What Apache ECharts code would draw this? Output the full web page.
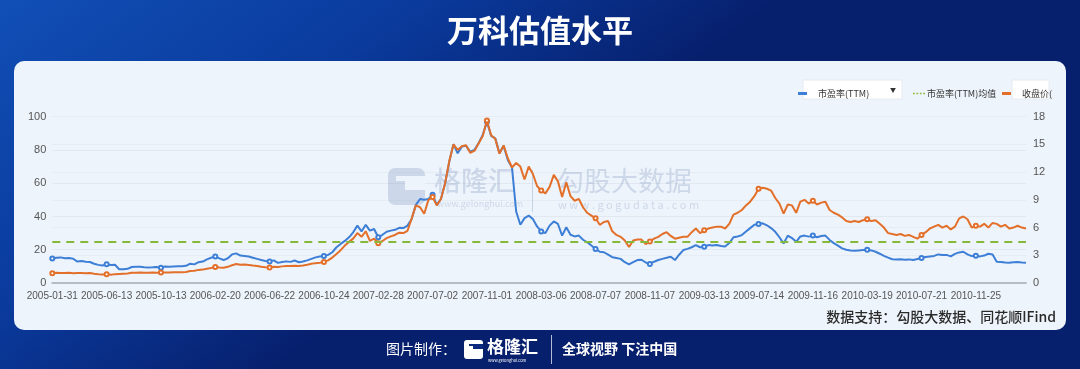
<!DOCTYPE html>
<html>
<head>
<meta charset="utf-8">
<script src="https://cdn.jsdelivr.net/npm/echarts@6/dist/echarts.min.js"></script>
<style>
html,body{margin:0;padding:0;width:1080px;height:369px;overflow:hidden;}
#c{width:1080px;height:369px;}
</style>
</head>
<body>
<div id="c"></div>
<script>
const categories = [
'2005-01-31','2005-02-07','2005-02-21','2005-03-02','2005-03-11','2005-03-22','2005-03-31','2005-04-11','2005-04-20','2005-04-29','2005-05-13','2005-05-23','2005-06-01',
'2005-06-13','2005-06-22','2005-07-01','2005-07-12','2005-07-21','2005-08-01','2005-08-10','2005-08-19','2005-08-30','2005-09-08','2005-09-19','2005-09-28','2005-10-10',
'2005-10-13','2005-10-24','2005-11-02','2005-11-11','2005-11-22','2005-12-01','2005-12-12','2005-12-21','2005-12-30','2006-01-11','2006-01-20','2006-02-06','2006-02-13',
'2006-02-20','2006-03-01','2006-03-10','2006-03-21','2006-03-30','2006-04-10','2006-04-19','2006-04-28','2006-05-12','2006-05-22','2006-05-31','2006-06-08','2006-06-15',
'2006-06-22','2006-07-03','2006-07-12','2006-07-21','2006-08-01','2006-08-10','2006-08-21','2006-08-30','2006-09-08','2006-09-19','2006-09-28','2006-10-13','2006-10-18',
'2006-10-24','2006-11-02','2006-11-13','2006-11-22','2006-12-01','2006-12-12','2006-12-21','2007-01-04','2007-01-12','2007-01-23','2007-02-01','2007-02-09','2007-02-16',
'2007-02-28','2007-03-09','2007-03-20','2007-03-29','2007-04-09','2007-04-18','2007-04-27','2007-05-11','2007-05-22','2007-05-31','2007-06-11','2007-06-20','2007-06-27',
'2007-07-02','2007-07-11','2007-07-20','2007-07-31','2007-08-09','2007-08-20','2007-08-29','2007-09-07','2007-09-18','2007-09-27','2007-10-12','2007-10-19','2007-10-26',
'2007-11-01','2007-11-12','2007-11-21','2007-11-30','2007-12-11','2007-12-20','2007-12-28','2008-01-09','2008-01-18','2008-01-29','2008-02-04','2008-02-18','2008-02-27',
'2008-03-06','2008-03-17','2008-03-26','2008-04-07','2008-04-16','2008-04-25','2008-05-08','2008-05-19','2008-05-28','2008-06-06','2008-06-17','2008-06-25','2008-06-30',
'2008-07-07','2008-07-16','2008-07-25','2008-08-05','2008-08-14','2008-08-25','2008-09-03','2008-09-12','2008-09-23','2008-10-06','2008-10-15','2008-10-24','2008-10-31',
'2008-11-07','2008-11-17','2008-11-26','2008-12-05','2008-12-16','2008-12-25','2009-01-07','2009-01-16','2009-02-02','2009-02-11','2009-02-20','2009-03-03','2009-03-06',
'2009-03-13','2009-03-24','2009-04-02','2009-04-14','2009-04-23','2009-05-05','2009-05-14','2009-05-25','2009-06-03','2009-06-12','2009-06-23','2009-07-02','2009-07-08',
'2009-07-14','2009-07-23','2009-08-03','2009-08-12','2009-08-21','2009-09-01','2009-09-10','2009-09-21','2009-09-30','2009-10-14','2009-10-23','2009-11-03','2009-11-10',
'2009-11-16','2009-11-25','2009-12-04','2009-12-15','2009-12-24','2010-01-06','2010-01-15','2010-01-26','2010-02-04','2010-02-11','2010-02-25','2010-03-08','2010-03-12',
'2010-03-19','2010-03-30','2010-04-09','2010-04-20','2010-04-29','2010-05-11','2010-05-20','2010-05-31','2010-06-09','2010-06-22','2010-07-01','2010-07-12','2010-07-16',
'2010-07-21','2010-07-30','2010-08-10','2010-08-19','2010-08-30','2010-09-08','2010-09-17','2010-09-30','2010-10-15','2010-10-26','2010-11-04','2010-11-15','2010-11-19',
'2010-11-25','2010-12-06','2010-12-15','2010-12-24','2011-01-05','2011-01-14','2011-01-25','2011-02-10','2011-02-21','2011-03-02','2011-03-11','2011-03-22','2011-03-31'
];

const peTTM = [
14.8,15.2,15.4,14.9,15.0,14.6,12.9,13.2,12.8,12.6,11.6,10.9,10.5,11.2,10.8,11.0,8.3,8.2,8.5,9.6,
9.7,9.8,9.5,9.3,9.4,9.6,9.2,9.9,9.8,9.9,10.0,10.1,10.3,11.6,11.2,12.5,12.9,14.2,15.2,
15.9,14.8,13.8,14.9,17.2,17.8,16.5,16.3,15.9,15.2,14.5,13.8,13.2,12.9,13.6,12.1,12.6,13.0,12.7,13.5,
12.5,12.9,13.6,14.5,15.4,15.9,16.2,16.9,18.5,21.5,23.5,25.3,27.5,30.5,34.5,31.0,35.0,31.5,32.5,27.5,
29.0,30.8,31.5,32.0,33.2,33.0,34.5,38.5,47.0,50.5,50.0,50.5,53.0,47.0,50.5,60.0,73.0,83.5,78.0,
82.0,82.5,79.0,80.0,84.0,89.0,97.0,88.5,87.0,78.0,82.5,74.0,69.5,43.0,35.0,39.0,40.5,38.5,34.0,31.0,
30.0,34.5,37.0,35.5,28.5,33.5,29.0,28.0,28.5,26.0,24.5,22.5,20.5,18.8,18.5,17.0,15.5,15.0,14.5,
12.5,11.2,12.5,13.8,14.0,12.3,11.5,12.8,13.8,14.5,15.2,15.8,13.8,17.0,19.8,20.5,21.5,22.8,21.5,21.8,
22.8,22.5,22.8,22.2,22.0,24.0,27.5,28.0,28.8,31.0,33.0,35.0,35.5,35.9,34.7,33.0,30.8,27.5,23.8,
28.5,27.0,24.8,28.0,28.5,27.9,28.5,27.5,28.3,28.5,25.9,24.0,22.5,20.8,20.0,19.6,19.4,19.6,19.8,20.0,
19.6,18.8,17.6,16.3,15.3,14.3,14.1,14.3,14.0,14.2,13.8,14.4,15.0,15.6,16.0,16.3,17.2,16.8,16.9,
16.0,17.5,18.4,18.8,17.2,16.2,16.4,16.0,16.5,17.6,17.2,12.8,12.6,12.3,12.2,12.5,12.6,12.3,12.2
];

const closePrice = [
1.05,1.12,1.08,1.07,1.10,1.06,1.09,1.07,1.05,1.08,1.00,0.95,0.92,0.95,0.90,0.96,0.98,1.00,1.02,1.10,
1.12,1.13,1.11,1.12,1.14,1.10,1.13,1.15,1.14,1.16,1.17,1.17,1.20,1.30,1.33,1.42,1.45,1.55,1.62,
1.72,1.68,1.65,1.75,1.92,2.05,1.98,2.00,1.96,1.90,1.85,1.75,1.70,1.68,1.76,1.72,1.80,1.85,1.84,1.86,
1.85,1.90,1.98,2.08,2.15,2.20,2.28,2.45,2.75,3.15,3.55,4.05,4.45,4.80,5.40,5.00,5.60,4.55,4.80,4.30,
4.55,4.85,5.05,5.20,5.45,5.40,5.65,7.00,8.40,8.20,7.50,9.00,9.30,8.40,9.10,10.8,13.2,15.0,14.4,
14.8,14.9,14.1,14.3,15.1,15.9,17.6,16.0,15.6,14.0,14.9,13.5,12.5,13.0,12.6,11.2,12.6,11.8,10.5,10.0,
9.7,10.4,11.7,11.0,9.3,10.9,9.4,8.9,9.1,8.2,7.6,7.3,7.0,6.3,6.6,6.7,5.6,5.2,5.0,
4.6,3.9,4.6,4.7,4.7,4.2,4.5,4.8,5.0,5.3,5.5,5.1,4.8,4.9,5.0,5.0,5.5,5.9,5.4,5.7,
5.9,6.0,6.1,6.1,5.9,6.4,7.4,7.6,7.9,8.4,8.8,9.4,10.2,10.3,10.2,10.0,9.2,8.6,7.5,
8.5,8.4,7.6,8.8,9.0,8.6,8.9,8.5,8.7,8.8,7.9,7.6,7.4,7.1,6.7,6.6,6.7,6.6,6.8,6.9,
6.7,6.8,6.4,6.0,5.4,5.3,5.2,5.3,5.1,5.2,5.0,4.8,5.2,5.5,5.9,6.1,6.3,6.0,6.2,
5.8,6.1,7.0,7.2,6.9,6.0,6.2,6.1,6.4,6.0,6.5,6.4,6.1,6.3,5.9,6.0,6.2,6.0,5.9
];

const peMean = 24.8;
const leftAxis = { min: 0, max: 100, interval: 20 };
const rightAxis = { min: 0, max: 18, interval: 3 };
const labelEvery = 13;

const titleText = '万科估值水平';
const nameP = '市盈率(TTM)';
const nameM = '市盈率(TTM)均值';
const nameC = '收盘价(前复权)';
const sourceText = '数据支持：勾股大数据、同花顺IFind';

const FONT = '"Noto Sans CJK SC","Noto Sans",sans-serif';
const NUMFONT = '"Liberation Sans","Noto Sans CJK SC",sans-serif';
const BLUE = '#3d7fd6', ORANGE = '#e3702a', GREEN = '#86b83a';
const WM = 'rgba(120,145,185,0.28)';

const chart = echarts.init(document.getElementById('c'), null, { renderer: 'canvas' });

const option = {
  animation: false,
  backgroundColor: {
    type: 'linear', x: 0, y: 0, x2: 0.25, y2: 1,
    colorStops: [
      { offset: 0, color: '#114fb6' },
      { offset: 0.55, color: '#0a3a9c' },
      { offset: 1, color: '#07206e' }
    ]
  },
  textStyle: { fontFamily: FONT },
  title: {
    text: titleText, left: 'center', top: 10,
    textStyle: { color: '#ffffff', fontSize: 31, fontWeight: 'bold', fontFamily: FONT }
  },
  graphic: [
    { type: 'rect', z: -5, shape: { x: 14, y: 61, width: 1052, height: 269, r: 10 }, style: { fill: '#eef4fb' } },
    { type: 'rect', z: 3, shape: { x: 803, y: 80, width: 99, height: 19 }, style: { fill: '#ffffff', stroke: '#e6eaf0', lineWidth: 1 } },
    { type: 'text', z: 4, style: { x: 893, y: 90, text: '▼', fill: '#333', font: '6px ' + FONT, textAlign: 'center', textVerticalAlign: 'middle' } },
    { type: 'rect', z: 3, shape: { x: 1012, y: 80, width: 37, height: 19 }, style: { fill: '#ffffff', stroke: '#e6eaf0', lineWidth: 1 } },
    { type: 'rect', z: 1, shape: { x: 388, y: 168, width: 37, height: 37, r: 7 }, style: { fill: WM } },
    { type: 'rect', z: 1, shape: { x: 405, y: 181, width: 20, height: 9 }, style: { fill: '#eef4fb' } },
    { type: 'rect', z: 1, shape: { x: 396, y: 176, width: 29, height: 5 }, style: { fill: '#eef4fb' } },
    { type: 'text', z: 1, style: { x: 434, y: 167, text: '格隆汇', fill: WM, font: '500 27px ' + FONT } },
    { type: 'text', z: 1, style: { x: 437, y: 199, text: 'www.gelonghui.com', fill: WM, font: '9px ' + FONT } },
    { type: 'rect', z: 1, shape: { x: 532, y: 170, width: 1, height: 42 }, style: { fill: 'rgba(120,145,185,0.35)' } },
    { type: 'text', z: 1, style: { x: 557, y: 167, text: '勾股大数据', fill: WM, font: '27px ' + FONT } },
    { type: 'text', z: 1, style: { x: 558, y: 199, text: 'w w w . g o g u d a t a . c o m', fill: WM, font: '11px ' + FONT } },
    { type: 'text', z: 4, style: { x: 1056, y: 317, text: sourceText, fill: '#2a2a2a', font: '500 14px ' + FONT, textAlign: 'right', textVerticalAlign: 'middle' } },
    { type: 'text', z: 4, style: { x: 386, y: 349, text: '图片制作：', fill: '#ffffff', font: '14px ' + FONT, textVerticalAlign: 'middle' } },
    { type: 'rect', z: 4, shape: { x: 464, y: 340, width: 19, height: 19, r: 3 }, style: { fill: '#ffffff' } },
    { type: 'rect', z: 5, shape: { x: 473, y: 345, width: 10, height: 4 }, style: { fill: '#0a2a80' } },
    { type: 'rect', z: 5, shape: { x: 469, y: 344, width: 14, height: 2 }, style: { fill: '#0a2a80' } },
    { type: 'text', z: 4, style: { x: 487, y: 347, text: '格隆汇', fill: '#ffffff', font: 'bold 17px ' + FONT, textVerticalAlign: 'middle' } },
    { type: 'text', z: 4, style: { x: 488, y: 360, text: 'www.gelonghui.com', fill: '#ffffff', font: '4px ' + FONT, textVerticalAlign: 'middle' } },
    { type: 'rect', z: 4, shape: { x: 551, y: 335, width: 1, height: 29 }, style: { fill: 'rgba(255,255,255,0.7)' } },
    { type: 'text', z: 4, style: { x: 562, y: 349, text: '全球视野 下注中国', fill: '#ffffff', font: 'bold 14px ' + FONT, textVerticalAlign: 'middle' } }
  ],
  legend: [
    {
      data: [{ name: nameP, icon: 'rect' }], left: 793, top: 84, itemWidth: 9, itemHeight: 3, z: 5,
      selectedMode: false,
      textStyle: { fontSize: 9, color: '#333', padding: [0, 0, 0, 6], fontFamily: FONT }
    },
    {
      data: [{ name: nameM, icon: 'path://M0,0h2v2h-2z M4,0h2v2h-2z M8,0h2v2h-2z M12,0h2v2h-2z' }], left: 908, top: 84, itemWidth: 12, itemHeight: 2, z: 5,
      selectedMode: false,
      textStyle: { fontSize: 9, color: '#333', padding: [0, 0, 0, -3], fontFamily: FONT }
    },
    {
      data: [{ name: nameC, icon: 'rect' }], left: 997, top: 84, itemWidth: 9, itemHeight: 3, z: 5,
      selectedMode: false,
      textStyle: { fontSize: 9, color: '#333', padding: [0, 0, 0, 6], width: 33, overflow: 'truncate', ellipsis: '', fontFamily: FONT }
    }
  ],
  grid: { left: 52.3, right: 54, top: 116.7, bottom: 86, containLabel: false },
  xAxis: {
    type: 'category', data: categories, boundaryGap: false,
    axisLine: { lineStyle: { color: '#b4bcc8', width: 2 } },
    axisTick: { show: false },
    axisLabel: { interval: labelEvery - 1, showMinLabel: true, hideOverlap: false, color: '#555', fontSize: 10, margin: 8, fontFamily: NUMFONT },
    splitLine: { show: false }
  },
  yAxis: [
    {
      type: 'value', min: leftAxis.min, max: leftAxis.max, interval: leftAxis.interval,
      axisLine: { show: false }, axisTick: { show: false },
      axisLabel: { color: '#555', fontSize: 11, margin: 6, fontFamily: NUMFONT },
      splitLine: { lineStyle: { color: '#e1e8f0', width: 1 } }
    },
    {
      type: 'value', min: rightAxis.min, max: rightAxis.max, interval: rightAxis.interval,
      axisLine: { show: false }, axisTick: { show: false },
      axisLabel: { color: '#555', fontSize: 11, margin: 7, fontFamily: NUMFONT },
      splitLine: { lineStyle: { color: '#e6ecf3', width: 1 } }
    }
  ],
  series: [
    {
      name: nameP, type: 'line', data: peTTM, yAxisIndex: 0, color: BLUE,
      lineStyle: { width: 2, color: BLUE }, itemStyle: { color: BLUE },
      symbol: 'emptyCircle', symbolSize: 4, showSymbol: true, showAllSymbol: 'auto', z: 3
    },
    {
      name: nameM, type: 'line', data: [], yAxisIndex: 0, color: GREEN,
      lineStyle: { width: 2, color: GREEN, type: [8, 6] }, itemStyle: { color: GREEN },
      markLine: {
        silent: true, symbol: ['none', 'none'], label: { show: false },
        lineStyle: { color: GREEN, width: 2, type: [8, 6] },
        data: [{ yAxis: peMean }]
      }, z: 3
    },
    {
      name: nameC, type: 'line', data: closePrice, yAxisIndex: 1, color: ORANGE,
      lineStyle: { width: 2, color: ORANGE }, itemStyle: { color: ORANGE },
      symbol: 'emptyCircle', symbolSize: 4, showSymbol: true, showAllSymbol: 'auto', z: 4
    }
  ]
};
chart.setOption(option);
</script>
</body>
</html>
